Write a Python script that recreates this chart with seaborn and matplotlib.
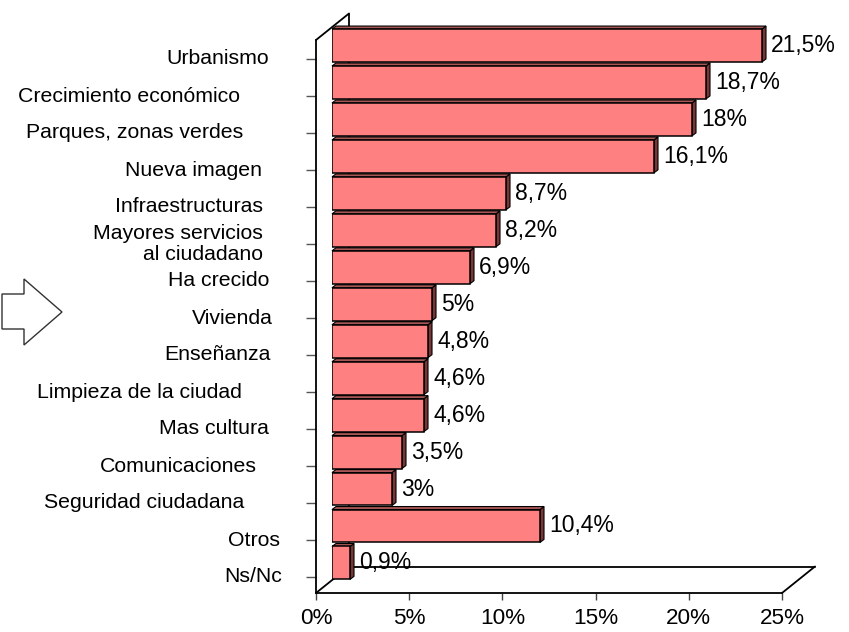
import numpy as np
import pandas as pd
import matplotlib
matplotlib.use("Agg")
import matplotlib.pyplot as plt
import seaborn as sns
from matplotlib.patches import Polygon
from matplotlib.lines import Line2D
from matplotlib.transforms import IdentityTransform

# ---------------- data ----------------
categories = [
    "Urbanismo",
    "Crecimiento económico",
    "Parques, zonas verdes",
    "Nueva imagen",
    "Infraestructuras",
    "Mayores servicios\nal ciudadano",
    "Ha crecido",
    "Vivienda",
    "Enseñanza",
    "Limpieza de la ciudad",
    "Mas cultura",
    "Comunicaciones",
    "Seguridad ciudadana",
    "Otros",
    "Ns/Nc",
]
values = [21.5, 18.7, 18, 16.1, 8.7, 8.2, 6.9, 5, 4.8, 4.6, 4.6, 3.5, 3, 10.4, 0.9]
xticks = [0, 5, 10, 15, 20, 25]
xtick_labels = ["0%", "5%", "10%", "15%", "20%", "25%"]

# ---------------- layout (pixels) ----------------
W, H = 849, 632
label_right_px = [269, 240, 243, 262, 263, 263, 269, 273, 271, 242, 269, 257, 244, 280, 282]
DEPTH = (33, -26.5)        # 3D frame depth (px, y down)
BAR_DEPTH = (4, 3)         # bar depth (display px, y up)

sns.set_theme(style="white")
plt.rcParams["font.family"] = ["Liberation Sans", "DejaVu Sans"]

fig = plt.figure(figsize=(W / 100, H / 100), dpi=100)
fig.patch.set_facecolor("white")


def fx(px):
    return px / W


def fy(py):
    return 1 - py / H


# front plane axes (ticks, labels, wall & floor)
L, R, T, B = 316, 782, 40, 593
ax = fig.add_axes([fx(L), fy(B), fx(R) - fx(L), fy(T) - fy(B)])
ax.set_facecolor("white")
ax.set_xlim(0, 25)
n = len(categories)
ax.set_ylim((B - 59) / 37, (T - 59) / 37)
ax.set_xticks(xticks)
ax.set_xticklabels(xtick_labels, fontsize=16.2, color="black")
ax.set_yticks(np.arange(n))
ax.set_yticklabels([])
ax.tick_params(axis="x", direction="out", length=5, width=1, color="#444444", pad=5.5,
               bottom=True)
ax.tick_params(axis="y", direction="out", length=7.2, width=1, color="#555555", left=True)
for s in ["top", "right"]:
    ax.spines[s].set_visible(False)
for s in ["left", "bottom"]:
    ax.spines[s].set_color("black")
    ax.spines[s].set_linewidth(1.3)
ax.grid(False)

for i, lab in enumerate(categories):
    ax.text((label_right_px[i] - L) / (R - L), i, lab, transform=ax.get_yaxis_transform(),
            ha="right", va="center", multialignment="right", fontsize=15.3,
            color="black", linespacing=1.1)

dx, dy = DEPTH
frame_segments = [
    ((L, T), (L + dx, T + dy)),            # wall top diagonal
    ((L + dx, T + dy), (L + dx, B + dy)),  # wall back edge
    ((L, B), (L + dx, B + dy)),            # floor left diagonal
    ((L + dx, B + dy), (R + dx, B + dy)),  # floor back edge
    ((R, B), (R + dx, B + dy)),            # floor right diagonal
]
for (x0, y0), (x1, y1) in frame_segments:
    ax.add_line(Line2D([fx(x0), fx(x1)], [fy(y0), fy(y1)], transform=fig.transFigure,
                       color="black", lw=1.3, clip_on=False))

# bar axes (bars sit at mid depth)
BL, BW = 332, 500
pitch = 36.96
BT = 45.5 - 0.5 * pitch
BB = BT + n * pitch
ax2 = fig.add_axes([fx(BL), fy(BB), fx(BL + BW) - fx(BL), fy(BT) - fy(BB)], zorder=1)
df = pd.DataFrame({"cat": categories, "val": values})
sns.barplot(data=df, x="val", y="cat", orient="h", color="#FF8080", saturation=1,
            edgecolor="black", linewidth=1.1, width=0.89, ax=ax2)
ax2.set_xlim(0, 25)
ax2.set_ylim(n - 0.5, -0.5)
ax2.set_axis_off()

bdx, bdy = BAR_DEPTH
for p in list(ax2.patches):
    x0, y0, w, h = p.get_x(), p.get_y(), p.get_width(), p.get_height()
    (ax0, ay0), (ax1, ay1) = ax2.transData.transform([(x0, y0), (x0 + w, y0 + h)])
    left, right = min(ax0, ax1), max(ax0, ax1)
    top, bot = max(ay0, ay1), min(ay0, ay1)
    side = [(right, bot), (right + bdx, bot + bdy), (right + bdx, top + bdy), (right, top)]
    topf = [(left, top), (left + bdx, top + bdy), (right + bdx, top + bdy), (right, top)]
    ax2.add_patch(Polygon(side, closed=True, transform=IdentityTransform(),
                          facecolor="#7a3535", edgecolor="black", lw=0.8, zorder=0.5,
                          clip_on=False))
    ax2.add_patch(Polygon(topf, closed=True, transform=IdentityTransform(),
                          facecolor="#a85555", edgecolor="black", lw=0.8, zorder=0.5,
                          clip_on=False))

value_labels = [f"{v:g}".replace(".", ",") + "%" for v in values]
ax2.bar_label(ax2.containers[0], labels=value_labels, padding=6.5, fontsize=16.5,
              color="black")

# decorative block arrow on the left
arrow_px = [(2, 294), (24, 294), (24, 279), (62, 312), (24, 345), (24, 329), (2, 329)]
fig.add_artist(Polygon([(fx(a), fy(b)) for a, b in arrow_px], closed=True,
                       transform=fig.transFigure, facecolor="white",
                       edgecolor="#333333", lw=1.0))

fig.savefig("out.png", dpi=100)
